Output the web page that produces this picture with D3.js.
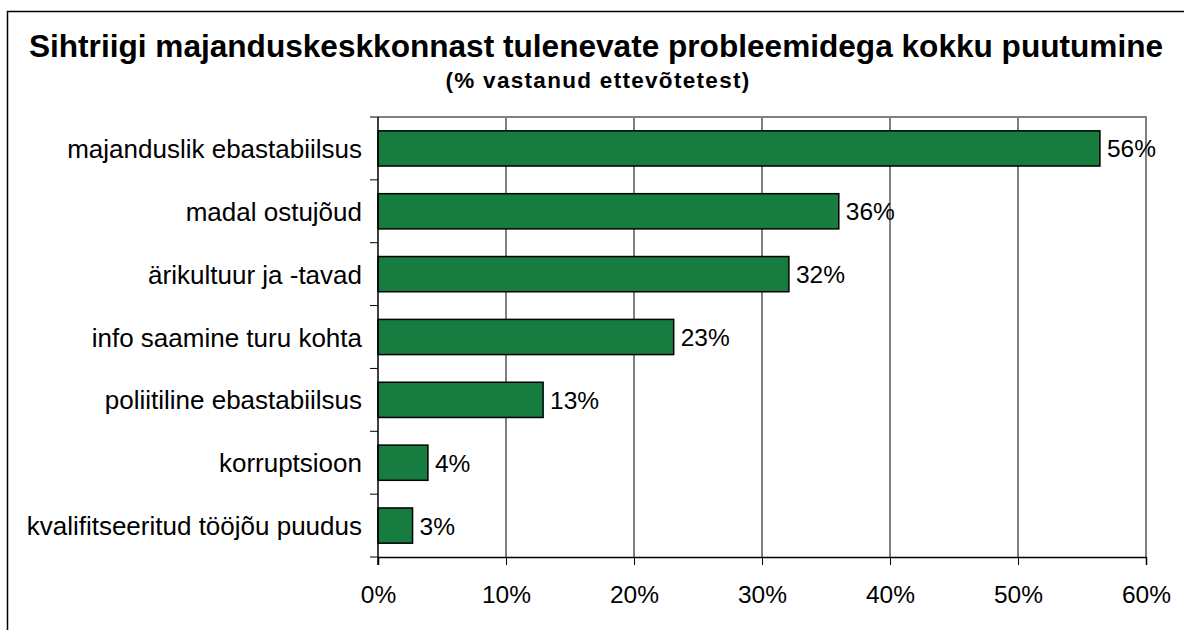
<!DOCTYPE html>
<html>
<head>
<meta charset="utf-8">
<script src="https://cdn.jsdelivr.net/npm/d3@7"></script>
<style>
  body { margin: 0; background: #fff; }
  svg { font-family: "Liberation Sans", Arial, sans-serif; }
</style>
</head>
<body>
<svg width="1184" height="630"></svg>
<script>
const categories = [
  "majanduslik ebastabiilsus",
  "madal ostujõud",
  "ärikultuur ja -tavad",
  "info saamine turu kohta",
  "poliitiline ebastabiilsus",
  "korruptsioon",
  "kvalifitseeritud tööjõu puudus"
];
const values = [56.4, 36.0, 32.1, 23.1, 12.9, 3.9, 2.7];
const tickValues = [0, 10, 20, 30, 40, 50, 60];

const svg = d3.select("svg");

// outer frame
svg.append("rect")
    .attr("x", 7.5).attr("y", 11.5)
    .attr("width", 1300).attr("height", 700)
    .attr("fill", "none").attr("stroke", "#000").attr("stroke-width", 1.5);

svg.append("text")
    .attr("x", 596).attr("y", 57)
    .attr("text-anchor", "middle")
    .style("font-size", "31.6px").style("font-weight", "bold")
    .text("Sihtriigi majanduskeskkonnast tulenevate probleemidega kokku puutumine");

svg.append("text")
    .attr("x", 598).attr("y", 88)
    .attr("text-anchor", "middle")
    .style("font-size", "22.5px").style("font-weight", "bold")
    .style("letter-spacing", "1.3px")
    .text("(% vastanud ettevõtetest)");

const plotL = 378, plotR = 1146, plotT = 117, plotB = 557;

const x = d3.scaleLinear().domain([0, 60]).range([plotL, plotR]);
const y = d3.scaleBand().domain(categories).range([plotT, plotB]).paddingInner(0.44).paddingOuter(0.22);
const yEdges = d3.scaleLinear().domain([0, categories.length]).range([plotT, plotB]);

// gridlines
svg.append("g").selectAll("line")
    .data(tickValues.slice(1, -1))
    .join("line")
    .attr("x1", d => x(d)).attr("x2", d => x(d))
    .attr("y1", plotT).attr("y2", plotB)
    .attr("stroke", "#000").attr("stroke-width", 1);

// plot border top/right grey
svg.append("path")
    .attr("d", `M${plotL},${plotT}H${plotR}V${plotB}`)
    .attr("fill", "none").attr("stroke", "#808080").attr("stroke-width", 2);

// bars
svg.append("g").selectAll("rect")
    .data(values)
    .join("rect")
    .attr("x", x(0))
    .attr("y", (d, i) => y(categories[i]))
    .attr("width", d => x(d) - x(0))
    .attr("height", y.bandwidth())
    .attr("fill", "#177c3f")
    .attr("stroke", "#000").attr("stroke-width", 1.5);

// value labels
svg.append("g").selectAll("text")
    .data(values)
    .join("text")
    .attr("x", d => x(d) + 7)
    .attr("y", (d, i) => y(categories[i]) + y.bandwidth() / 2)
    .attr("dy", "0.37em")
    .style("font-size", "24.5px")
    .text(d => Math.round(d) + "%");

// x axis
const xAxis = svg.append("g")
    .attr("transform", `translate(0,${plotB})`)
    .call(d3.axisBottom(x).tickValues(tickValues).tickFormat(d => d + "%").tickSize(8).tickPadding(21));
xAxis.select(".domain").attr("stroke", "#000").attr("stroke-width", 1.5);
xAxis.selectAll(".tick line").attr("stroke", "#000");
xAxis.selectAll("text").style("font-size", "24.5px").style("font-family", "Liberation Sans, Arial, sans-serif").attr("fill", "#000");

// y axis line and ticks at band edges
svg.append("line")
    .attr("x1", plotL).attr("x2", plotL).attr("y1", plotT).attr("y2", plotB + 8)
    .attr("stroke", "#000").attr("stroke-width", 1.5);
svg.append("g").selectAll("line")
    .data(d3.range(categories.length + 1))
    .join("line")
    .attr("x1", plotL - 8).attr("x2", plotL)
    .attr("y1", d => yEdges(d)).attr("y2", d => yEdges(d))
    .attr("stroke", "#000").attr("stroke-width", 1);

// category labels
svg.append("g").selectAll("text")
    .data(categories)
    .join("text")
    .attr("x", plotL - 16)
    .attr("y", d => y(d) + y.bandwidth() / 2)
    .attr("dy", "0.37em")
    .attr("text-anchor", "end")
    .style("font-size", "26px")
    .text(d => d);
</script>
</body>
</html>
